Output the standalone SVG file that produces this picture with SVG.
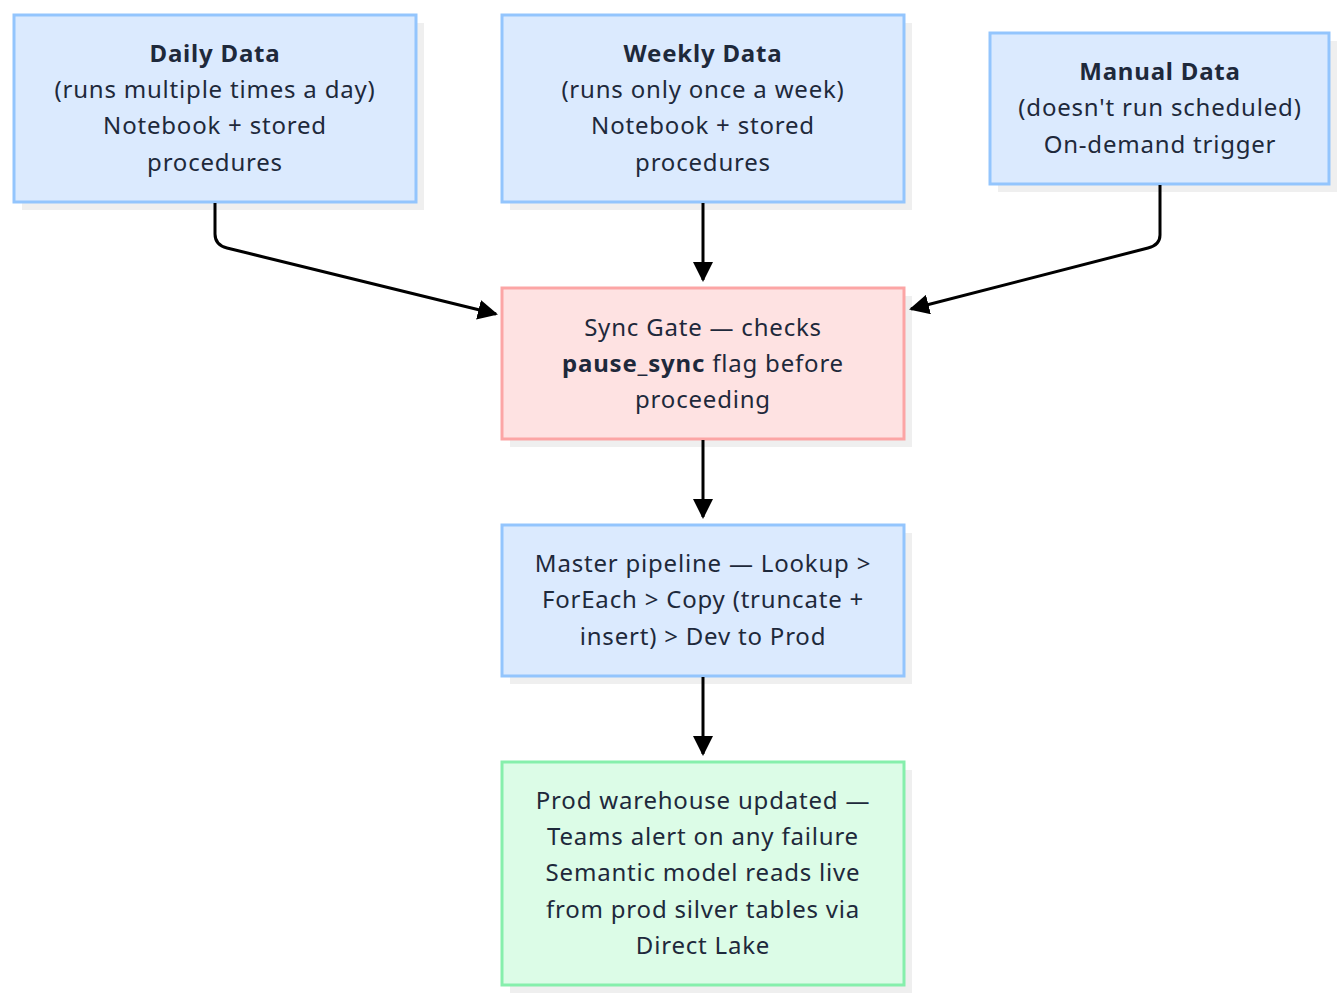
<svg xmlns="http://www.w3.org/2000/svg" width="1343" height="1000" viewBox="0 0 1343 1000">
<style>
.sh{fill:#efefef}
.blue{fill:#dbeafe;stroke:#93c5fd;stroke-width:3}
.red{fill:#fee2e2;stroke:#fca5a5;stroke-width:3}
.green{fill:#dcfce7;stroke:#86efac;stroke-width:3}
text{font-family:"Noto Sans","Open Sans",sans-serif;font-size:24px;letter-spacing:0.8px;fill:#1e293b;text-anchor:middle}
.b{font-weight:bold}
.edge{fill:none;stroke:#000;stroke-width:3}
</style>
<defs>
<marker id="arr" viewBox="0 0 20 20" refX="18" refY="10" markerWidth="20" markerHeight="20" markerUnits="userSpaceOnUse" orient="auto">
<path d="M0,0 L20,10 L0,20 Z" fill="#000"/>
</marker>
</defs>
<rect width="1343" height="1000" fill="#fff"/>
<g id="daily">
<rect class="sh" x="22" y="23" width="402" height="187"/>
<rect class="blue" x="14" y="15" width="402" height="187"/>
<text x="215" y="62" class="b">Daily Data</text>
<text x="215" y="98">(runs multiple times a day)</text>
<text x="215" y="134">Notebook + stored</text>
<text x="215" y="171">procedures</text>
</g>
<g id="weekly">
<rect class="sh" x="510" y="23" width="402" height="187"/>
<rect class="blue" x="502" y="15" width="402" height="187"/>
<text x="703" y="62" class="b">Weekly Data</text>
<text x="703" y="98">(runs only once a week)</text>
<text x="703" y="134">Notebook + stored</text>
<text x="703" y="171">procedures</text>
</g>
<g id="manual">
<rect class="sh" x="998" y="41" width="339" height="151"/>
<rect class="blue" x="990" y="33" width="339" height="151"/>
<text x="1160" y="80" class="b">Manual Data</text>
<text x="1160" y="116">(doesn't run scheduled)</text>
<text x="1160" y="153">On-demand trigger</text>
</g>
<g id="syncgate">
<rect class="sh" x="510" y="296" width="402" height="151"/>
<rect class="red" x="502" y="288" width="402" height="151"/>
<text x="703" y="336">Sync Gate — checks</text>
<text x="703" y="372"><tspan class="b">pause_sync</tspan> flag before</text>
<text x="703" y="408">proceeding</text>
</g>
<g id="master">
<rect class="sh" x="510" y="533" width="402" height="151"/>
<rect class="blue" x="502" y="525" width="402" height="151"/>
<text x="703" y="572">Master pipeline — Lookup &gt;</text>
<text x="703" y="608">ForEach &gt; Copy (truncate +</text>
<text x="703" y="645">insert) &gt; Dev to Prod</text>
</g>
<g id="prod">
<rect class="sh" x="510" y="770" width="402" height="223"/>
<rect class="green" x="502" y="762" width="402" height="223"/>
<text x="703" y="809">Prod warehouse updated —</text>
<text x="703" y="845">Teams alert on any failure</text>
<text x="703" y="881">Semantic model reads live</text>
<text x="703" y="918">from prod silver tables via</text>
<text x="703" y="954">Direct Lake</text>
</g>
<g id="connectors">
<path class="edge" d="M215,203 L215,234 Q215,245 227,248 L496,314" marker-end="url(#arr)"/>
<path class="edge" d="M703,203 L703,280" marker-end="url(#arr)"/>
<path class="edge" d="M1160,185 L1160,235 Q1160,245 1148,248 L911,309" marker-end="url(#arr)"/>
<path class="edge" d="M703,440 L703,517" marker-end="url(#arr)"/>
<path class="edge" d="M703,677 L703,754" marker-end="url(#arr)"/>
</g>
</svg>
